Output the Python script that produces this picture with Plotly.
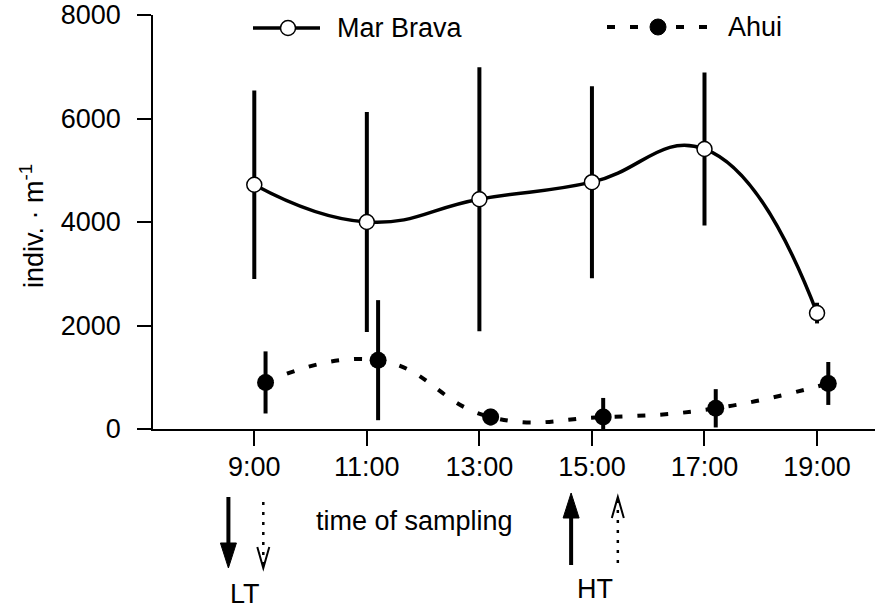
import plotly.graph_objects as go

# ---- data ----
mb_time = [9, 11, 13, 15, 17, 19]
mb_vals = [4720, 4000, 4440, 4770, 5410, 2240]
mb_err = [1820, 2125, 2550, 1855, 1480, 200]

ah_time = [9.2, 11.2, 13.2, 15.2, 17.2, 19.2]
ah_vals = [900, 1330, 230, 230, 400, 880]
ah_err = [600, 1160, 160, 370, 370, 415]

tick_vals = [9, 11, 13, 15, 17, 19]
tick_text = ["9:00", "11:00", "13:00", "15:00", "17:00", "19:00"]
y_ticks = [0, 2000, 4000, 6000, 8000]

lt_times = [8.54, 9.16]   # low tide: Mar Brava (solid), Ahui (dotted)
ht_times = [14.63, 15.46]  # high tide: Mar Brava (solid), Ahui (dotted)

X0, X1 = 7.2, 20.03
Y0, Y1 = 0, 8000
W, H = 875, 608
L, R, T, B = 153, 875, 15, 429
FONT = "Liberation Sans, Arial, sans-serif"
FS = 27


def px(xp):
    return (xp - L) / (R - L)


def py(yp):
    return (B - yp) / (B - T)


def t2px(t):
    return L + (t - X0) / (X1 - X0) * (R - L)


fig = go.Figure()
fig.add_trace(go.Scatter(
    x=mb_time, y=mb_vals, mode="lines+markers", name="Mar Brava",
    line=dict(color="black", width=3.5, shape="spline", smoothing=1.3),
    marker=dict(symbol="circle", size=15, color="white",
                line=dict(color="black", width=1.5)),
    error_y=dict(type="data", array=mb_err, visible=True, width=0,
                 thickness=4, color="black"),
))
fig.add_trace(go.Scatter(
    x=ah_time, y=ah_vals, mode="lines+markers", name="Ahui",
    line=dict(color="black", width=4, shape="spline", smoothing=1.3,
              dash="8px,15px"),
    marker=dict(symbol="circle", size=17, color="black"),
    error_y=dict(type="data", array=ah_err, visible=True, width=0,
                 thickness=4, color="black"),
))

shapes = []
annotations = []
tfont = dict(size=FS, family=FONT, color="black")

# legend (drawn manually)
shapes.append(dict(type="line", xref="paper", yref="paper",
                   x0=px(253), x1=px(320), y0=py(28), y1=py(28),
                   line=dict(color="black", width=3.5)))
shapes.append(dict(type="circle", xref="paper", yref="paper",
                   x0=px(280.5), x1=px(295.5), y0=py(35.5), y1=py(20.5),
                   fillcolor="white", line=dict(color="black", width=1.5)))
annotations.append(dict(text="Mar Brava", xref="paper", yref="paper",
                        x=px(335), y=py(28), xanchor="left", yanchor="middle",
                        showarrow=False, font=tfont))
shapes.append(dict(type="line", xref="paper", yref="paper",
                   x0=px(607), x1=px(715), y0=py(27), y1=py(27),
                   line=dict(color="black", width=4, dash="8px,15px")))
shapes.append(dict(type="circle", xref="paper", yref="paper",
                   x0=px(650), x1=px(666), y0=py(35), y1=py(19),
                   fillcolor="black", line=dict(color="black", width=1)))
annotations.append(dict(text="Ahui", xref="paper", yref="paper",
                        x=px(726), y=py(27), xanchor="left", yanchor="middle",
                        showarrow=False, font=tfont))


def solid_arrow(xp, y_tail, y_tip):
    d = 1 if y_tip > y_tail else -1
    head_base = y_tip - d * 25
    shapes.append(dict(type="line", xref="paper", yref="paper",
                       x0=px(xp), x1=px(xp), y0=py(y_tail), y1=py(head_base + d * 2),
                       line=dict(color="black", width=4)))
    path = "M %f,%f L %f,%f L %f,%f Z" % (
        px(xp - 8), py(head_base), px(xp + 8), py(head_base), px(xp), py(y_tip))
    shapes.append(dict(type="path", xref="paper", yref="paper", path=path,
                       fillcolor="black", line=dict(color="black", width=1)))


def dotted_arrow(xp, y_tail, y_tip):
    d = 1 if y_tip > y_tail else -1
    shapes.append(dict(type="line", xref="paper", yref="paper",
                       x0=px(xp), x1=px(xp), y0=py(y_tail), y1=py(y_tip - d * 2),
                       line=dict(color="black", width=2.5, dash="3px,7px")))
    hb = y_tip - d * 21
    path = "M %f,%f L %f,%f L %f,%f" % (
        px(xp - 6), py(hb), px(xp), py(y_tip), px(xp + 6), py(hb))
    shapes.append(dict(type="path", xref="paper", yref="paper", path=path,
                       line=dict(color="black", width=2)))


solid_arrow(t2px(lt_times[0]), 497, 568)
dotted_arrow(t2px(lt_times[1]), 502, 568)
solid_arrow(t2px(ht_times[0]), 565, 493)
dotted_arrow(t2px(ht_times[1]), 563, 497)

annotations.append(dict(text="LT", xref="paper", yref="paper", x=px(245), y=py(594),
                        xanchor="center", yanchor="middle", showarrow=False,
                        font=tfont))
annotations.append(dict(text="HT", xref="paper", yref="paper", x=px(595), y=py(589),
                        xanchor="center", yanchor="middle", showarrow=False,
                        font=tfont))
annotations.append(dict(text="time of sampling", xref="paper", yref="paper",
                        x=px(414), y=py(521), xanchor="center", yanchor="middle",
                        showarrow=False, font=tfont))
annotations.append(dict(text="indiv. · m<sup>-1</sup>", xref="paper", yref="paper",
                        x=px(32), y=py(226), xanchor="center", yanchor="middle",
                        textangle=-90, showarrow=False, font=tfont))

fig.update_layout(
    width=W, height=H,
    margin=dict(l=L, r=W - R, t=T, b=H - B, pad=0, autoexpand=False),
    paper_bgcolor="white", plot_bgcolor="white",
    showlegend=False,
    shapes=shapes, annotations=annotations,
    font=dict(family=FONT, size=FS, color="black"),
)
fig.update_xaxes(range=[X0, X1], tickvals=tick_vals, ticktext=tick_text,
                 showline=True, linecolor="black", linewidth=1.5,
                 ticks="outside", ticklen=15, tickwidth=1.5, tickcolor="black",
                 ticklabelstandoff=-2, showgrid=False, zeroline=False,
                 automargin=False, ticklabeloverflow="allow", tickfont=tfont)
fig.update_yaxes(range=[Y0, Y1], tickvals=y_ticks,
                 showline=True, linecolor="black", linewidth=1.5,
                 ticks="outside", ticklen=14, tickwidth=1.5, tickcolor="black",
                 ticklabelstandoff=11, showgrid=False, zeroline=False,
                 automargin=False, ticklabeloverflow="allow", tickfont=tfont)

fig.write_html(
    "out.html",
    config={"displayModeBar": False},
    post_script="document.body.style.margin='0';document.body.style.overflow='hidden';",
)
